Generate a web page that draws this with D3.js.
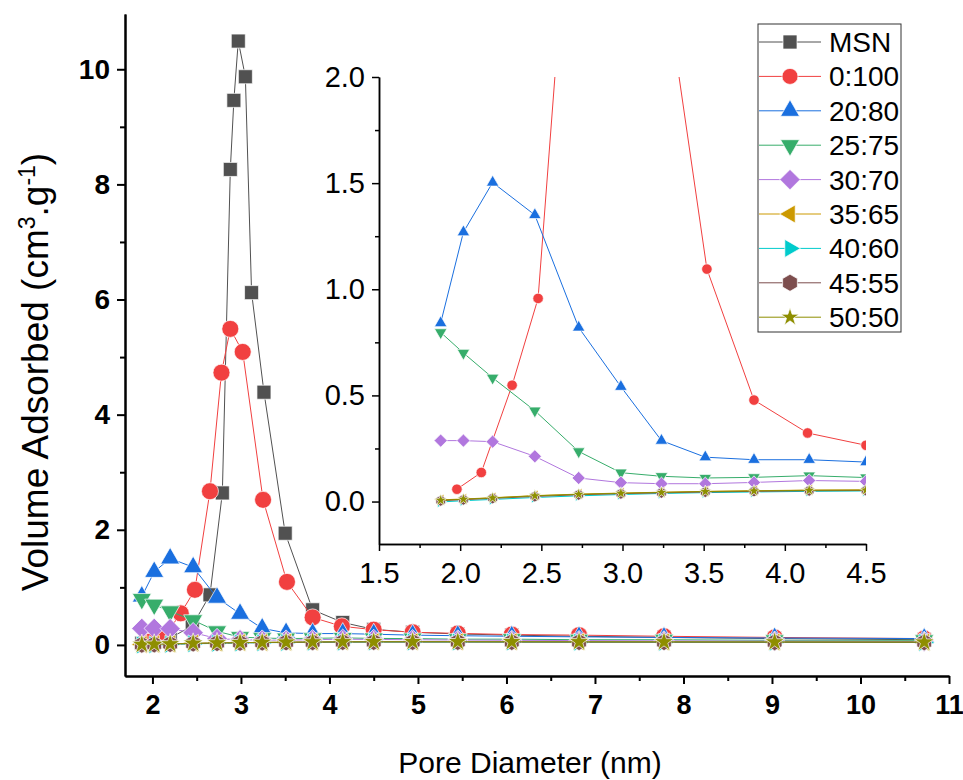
<!DOCTYPE html>
<html>
<head>
<meta charset="utf-8">
<script src="https://cdn.jsdelivr.net/npm/d3@7"></script>
<style>
  body { margin: 0; background: #fff; }
  svg { display: block; }
  text { font-family: "Liberation Sans", Arial, sans-serif; }
</style>
</head>
<body>
<svg id="chart" width="963" height="780"></svg>
<script>
// ---------------- data ----------------
const seriesNames = ["MSN", "0:100", "20:80", "25:75", "30:70", "35:65", "40:60", "45:55", "50:50"];
const seriesColors = ["#515151", "#F14040", "#1A6FDF", "#37AD6B", "#B177DE", "#CC9900", "#00CBCC", "#7D4E4E", "#8E8E00"];
const seriesShapes = ["square", "circle", "triUp", "triDown", "diamond", "triLeft", "triRight", "hexagon", "star"];

const xMSN = [1.88, 2.02, 2.20, 2.45, 2.65, 2.79, 2.88, 2.92, 2.97, 3.05, 3.12, 3.26, 3.50, 3.81, 4.15, 4.50, 4.94, 5.45, 6.06, 6.82, 7.78, 9.03, 10.72];
const yMSN = [0.03, 0.06, 0.12, 0.33, 0.87, 2.64, 8.26, 9.46, 10.49, 9.87, 6.12, 4.39, 1.94, 0.61, 0.39, 0.27, 0.22, 0.19, 0.17, 0.15, 0.13, 0.11, 0.09];

const x0_100 = [1.98, 2.13, 2.32, 2.48, 2.65, 2.78, 2.88, 3.02, 3.25, 3.52, 3.81, 4.14, 4.50, 4.94, 5.45, 6.06, 6.82, 7.78, 9.03, 10.72];
const y0_100 = [0.058, 0.137, 0.548, 0.957, 2.67, 4.73, 5.49, 5.09, 2.52, 1.095, 0.478, 0.323, 0.265, 0.22, 0.20, 0.18, 0.17, 0.15, 0.13, 0.11];

const xGrid = [1.88, 2.02, 2.20, 2.46, 2.73, 2.99, 3.24, 3.51, 3.81, 4.15, 4.50, 4.94, 5.45, 6.06, 6.82, 7.78, 9.03, 10.72];
const y20_80 = [0.841, 1.269, 1.503, 1.35, 0.82, 0.541, 0.287, 0.209, 0.197, 0.197, 0.186, 0.17, 0.16, 0.15, 0.14, 0.13, 0.12, 0.11];
const y25_75 = [0.797, 0.70, 0.583, 0.428, 0.236, 0.136, 0.119, 0.111, 0.114, 0.122, 0.113, 0.11, 0.10, 0.10, 0.09, 0.09, 0.08, 0.08];
const y30_70 = [0.287, 0.287, 0.282, 0.213, 0.111, 0.089, 0.084, 0.084, 0.09, 0.099, 0.095, 0.09, 0.085, 0.08, 0.075, 0.07, 0.065, 0.06];
const y35_65 = [0.008, 0.012, 0.018, 0.028, 0.035, 0.040, 0.044, 0.048, 0.051, 0.054, 0.055, 0.055, 0.055, 0.054, 0.053, 0.052, 0.050, 0.048];
const y40_60 = [-0.002, 0.004, 0.010, 0.019, 0.027, 0.033, 0.038, 0.042, 0.045, 0.048, 0.050, 0.050, 0.050, 0.049, 0.048, 0.047, 0.046, 0.044];
const y45_55 = [0.004, 0.009, 0.015, 0.024, 0.032, 0.037, 0.041, 0.045, 0.048, 0.051, 0.052, 0.052, 0.052, 0.051, 0.050, 0.049, 0.048, 0.046];
const y50_50 = [0.006, 0.011, 0.017, 0.027, 0.034, 0.039, 0.043, 0.047, 0.050, 0.053, 0.054, 0.055, 0.055, 0.054, 0.053, 0.052, 0.050, 0.048];

const mainXTicks = [2, 3, 4, 5, 6, 7, 8, 9, 10, 11];
const mainYTicks = [0, 2, 4, 6, 8, 10];
const insetXTicks = [1.5, 2.0, 2.5, 3.0, 3.5, 4.0, 4.5];
const insetYTicks = [0.0, 0.5, 1.0, 1.5, 2.0];

const xTitle = "Pore Diameter (nm)";

// --------------- build series ---------------
const seriesX = [xMSN, x0_100, xGrid, xGrid, xGrid, xGrid, xGrid, xGrid, xGrid];
const seriesY = [yMSN, y0_100, y20_80, y25_75, y30_70, y35_65, y40_60, y45_55, y50_50];
const series = seriesNames.map((name, i) => ({
  name, color: seriesColors[i], shape: seriesShapes[i],
  points: seriesX[i].map((x, j) => ({ x, y: seriesY[i][j] }))
}));

// --------------- marker paths ---------------
function markerPath(shape, s) {
  switch (shape) {
    case "square": return d3.symbol(d3.symbolSquare, s * s)();
    case "circle": return d3.symbol(d3.symbolCircle, Math.PI * (s / 2) * (s / 2))();
    case "diamond": return d3.symbol(d3.symbolSquare, (s * 0.72) * (s * 0.72))();
    case "triUp": case "triDown": case "triLeft": case "triRight":
      return d3.symbol(d3.symbolTriangle, Math.sqrt(3) / 4 * s * s)();
    case "star": return d3.symbol(d3.symbolStar, (s / 2) * (s / 2) / 0.8908130915292852)();
    case "hexagon": {
      const r = s / 2;
      const pts = d3.range(6).map(k => {
        const a = Math.PI / 2 + k * Math.PI / 3;
        return [r * Math.cos(a), r * Math.sin(a)];
      });
      return d3.line()(pts) + "Z";
    }
  }
}
function markerRot(shape) {
  return ({ diamond: 45, triDown: 180, triLeft: -90, triRight: 90 })[shape] || 0;
}
const mainSizes = { square: 14, circle: 17, triUp: 19, triDown: 19, diamond: 20, triLeft: 18, triRight: 18, hexagon: 17, star: 21 };
const insetSizes = { square: 9, circle: 10.5, triUp: 12.5, triDown: 12.5, diamond: 13, triLeft: 11, triRight: 11, hexagon: 11, star: 13 };
const legendSizes = { square: 14, circle: 16, triUp: 19, triDown: 19, diamond: 20, triLeft: 18, triRight: 18, hexagon: 17, star: 19 };

const svg = d3.select("#chart");
const FONT = "'Liberation Sans', Arial, sans-serif";

// --------------- main chart ---------------
const x = d3.scaleLinear().domain([1.69, 11]).range([125, 949]);
const y = d3.scaleLinear().domain([-0.54, 10.96]).range([676, 14]);

function drawSeries(g, xs, ys, data, sizes) {
  const line = d3.line().x(d => xs(d.x)).y(d => ys(d.y));
  data.forEach(s => {
    const sg = g.append("g");
    sg.append("path").attr("d", line(s.points)).attr("fill", "none")
      .attr("stroke", s.color).attr("stroke-width", 1);
    sg.selectAll("path.m").data(s.points).join("path").attr("class", "m")
      .attr("d", markerPath(s.shape, sizes[s.shape]))
      .attr("transform", d => `translate(${xs(d.x)},${ys(d.y)}) rotate(${markerRot(s.shape)})`)
      .attr("fill", s.color).attr("stroke", "#fff").attr("stroke-width", 0.7);
  });
}

function styleAxis(g, w) {
  g.selectAll("path.domain").attr("stroke", "#000").attr("stroke-width", w);
  g.selectAll(".tick line").attr("stroke", "#000").attr("stroke-width", w);
}

const mainXMinor = d3.range(2.5, 11, 1);
const mainYMinor = [1, 3, 5, 7, 9];
const gxMinor = svg.append("g").attr("transform", "translate(0,676)")
  .call(d3.axisBottom(x).tickValues(mainXMinor).tickSize(5).tickSizeOuter(0).tickFormat(""));
styleAxis(gxMinor, 2);
const gyMinor = svg.append("g").attr("transform", "translate(125,0)")
  .call(d3.axisLeft(y).tickValues(mainYMinor).tickSize(5).tickSizeOuter(0).tickFormat(""));
styleAxis(gyMinor, 2);

const gx = svg.append("g").attr("transform", "translate(0,676)")
  .call(d3.axisBottom(x).tickValues(mainXTicks).tickSize(8).tickSizeOuter(0).tickPadding(11).tickFormat(d3.format("d")));
styleAxis(gx, 2);
gx.selectAll("text").attr("font-size", 27).attr("font-weight", "bold").attr("fill", "#000").style("font-family", FONT);

const gy = svg.append("g").attr("transform", "translate(125,0)")
  .call(d3.axisLeft(y).tickValues(mainYTicks).tickSize(8).tickSizeOuter(0).tickPadding(7).tickFormat(d3.format("d")));
styleAxis(gy, 2);
gy.selectAll("text").attr("font-size", 28).attr("font-weight", "bold").attr("fill", "#000").style("font-family", FONT);

const mainG = svg.append("g");
drawSeries(mainG, x, y, series, mainSizes);

// axis titles
svg.append("text").attr("x", 530).attr("y", 773).attr("text-anchor", "middle")
  .attr("font-size", 30).text(xTitle);
const yt = svg.append("text").attr("transform", "translate(48,372) rotate(-90)")
  .attr("text-anchor", "middle").attr("font-size", 37);
yt.append("tspan").text("Volume Adsorbed (cm");
yt.append("tspan").attr("font-size", 23).attr("dy", -13).text("3");
yt.append("tspan").attr("dy", 13).text(".g");
yt.append("tspan").attr("font-size", 23).attr("dy", -13).text("-1");
yt.append("tspan").attr("dy", 13).text(")");

// --------------- inset ---------------
const xi = d3.scaleLinear().domain([1.5, 4.5]).range([379, 866]);
const yi = d3.scaleLinear().domain([-0.2, 2.0]).range([544, 77]);

svg.append("rect").attr("x", 379).attr("y", 77).attr("width", 487).attr("height", 467).attr("fill", "#fff");
svg.append("defs").append("clipPath").attr("id", "insetClip")
  .append("rect").attr("x", 379).attr("y", 77).attr("width", 487).attr("height", 467);

const gxiMinor = svg.append("g").attr("transform", "translate(0,544)")
  .call(d3.axisBottom(xi).tickValues(d3.range(1.75, 4.5, 0.5)).tickSize(4).tickSizeOuter(0).tickFormat(""));
styleAxis(gxiMinor, 1.5);
const gyiMinor = svg.append("g").attr("transform", "translate(379,0)")
  .call(d3.axisLeft(yi).tickValues([0.25, 0.75, 1.25, 1.75]).tickSize(4).tickSizeOuter(0).tickFormat(""));
styleAxis(gyiMinor, 1.5);

const gxi = svg.append("g").attr("transform", "translate(0,544)")
  .call(d3.axisBottom(xi).tickValues(insetXTicks).tickSize(7).tickSizeOuter(0).tickPadding(11).tickFormat(d3.format(".1f")));
styleAxis(gxi, 1.5);
gxi.selectAll("text").attr("font-size", 29).attr("fill", "#000").style("font-family", FONT);
const gyi = svg.append("g").attr("transform", "translate(379,0)")
  .call(d3.axisLeft(yi).tickValues(insetYTicks).tickSize(7).tickSizeOuter(0).tickPadding(7).tickFormat(d3.format(".1f")));
styleAxis(gyi, 1.5);
gyi.selectAll("text").attr("font-size", 29).attr("fill", "#000").style("font-family", FONT);

const insetG = svg.append("g").attr("clip-path", "url(#insetClip)");
drawSeries(insetG, xi, yi, series.slice(1).map(s => ({ ...s, points: s.points.filter(p => p.x <= 4.6) })), insetSizes);

// --------------- legend ---------------
const legendG = svg.append("g");
legendG.append("rect").attr("x", 758).attr("y", 24).attr("width", 143).attr("height", 308)
  .attr("fill", "#fff").attr("stroke", "#333").attr("stroke-width", 1);
series.forEach((s, i) => {
  const cy = 42 + i * 34.4;
  legendG.append("line").attr("x1", 759).attr("x2", 821).attr("y1", cy).attr("y2", cy)
    .attr("stroke", s.color).attr("stroke-width", 1);
  legendG.append("path").attr("d", markerPath(s.shape, legendSizes[s.shape]))
    .attr("transform", `translate(790,${cy}) rotate(${markerRot(s.shape)})`)
    .attr("fill", s.color).attr("stroke", "#fff").attr("stroke-width", 0.7);
  legendG.append("text").attr("x", 829).attr("y", cy + 10).attr("font-size", 28)
    .attr("fill", "#000").text(s.name);
});
</script>
</body>
</html>
